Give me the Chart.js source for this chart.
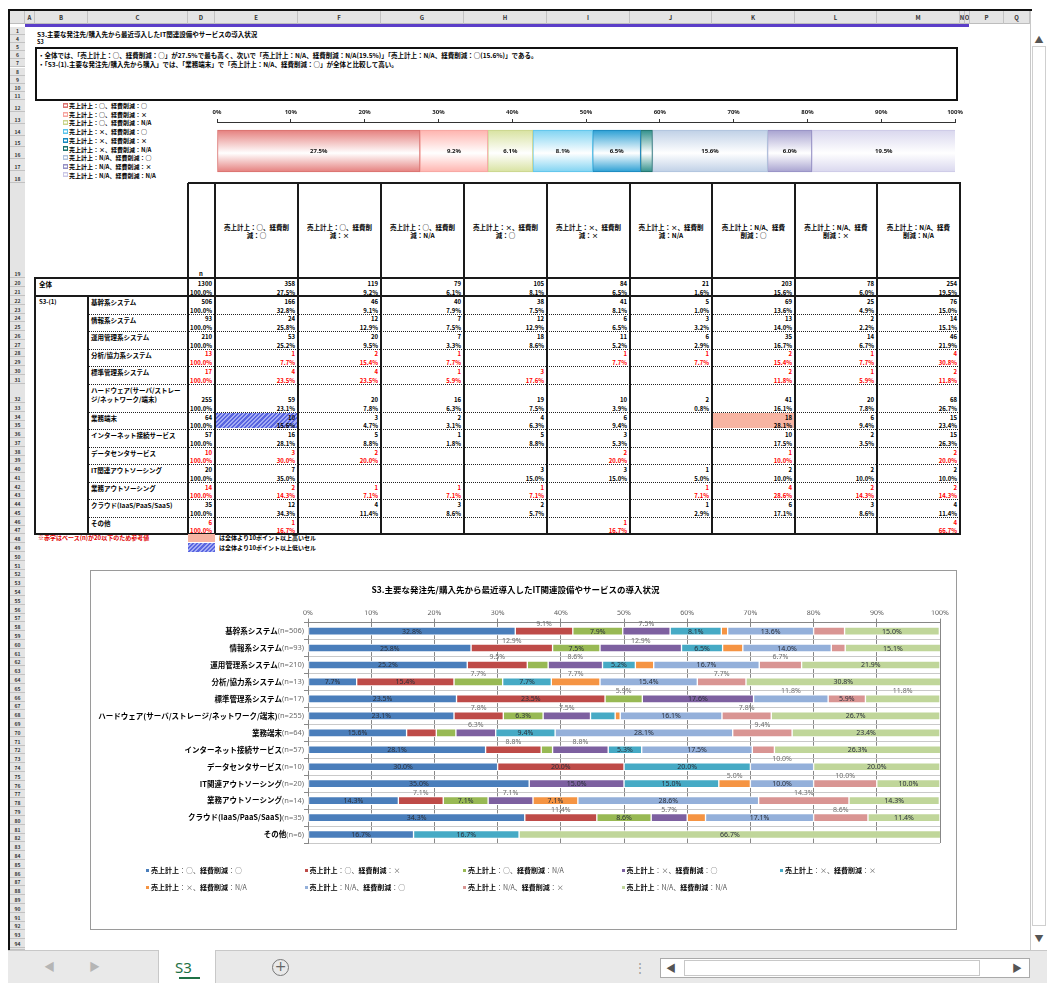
<!DOCTYPE html>
<html lang="ja"><head><meta charset="utf-8">
<script src="https://cdn.jsdelivr.net/npm/chart.js@4.4.1/dist/chart.umd.min.js"></script>
<style>
*{box-sizing:border-box}
html,body{margin:0;padding:0;background:#fff}
body{width:1047px;height:983px;position:relative;overflow:hidden;font-family:"Noto Sans CJK JP","Noto Sans",sans-serif;color:#000}
.a{position:absolute}
.rh{position:absolute;left:10px;width:15px;background:#e4e4e4;border-bottom:1px solid #c2c2c2;font-size:5px;font-weight:bold;color:#333;display:flex;align-items:flex-end;justify-content:center;line-height:6px;overflow:hidden}
.ch{position:absolute;top:11px;height:13px;border-right:1px solid #c2c2c2;font-size:6px;font-weight:bold;color:#333;display:flex;align-items:center;justify-content:center;overflow:hidden}
.t{position:absolute;font-size:6.5px;font-weight:bold;white-space:nowrap;line-height:1}
.cell{position:absolute;font-size:6px;font-weight:bold;display:flex;align-items:flex-end;justify-content:flex-end;padding-right:3px;line-height:7px;white-space:nowrap;overflow:hidden}
.ln{position:absolute;background:#1a1a1a}
.dot{position:absolute;height:0;border-top:1px dotted #222}
.lb{font-weight:bold;color:#000}
.ll{font-weight:normal;color:#555}
.hdr{position:absolute;font-size:6.5px;font-weight:bold;text-align:center;line-height:8px;display:flex;align-items:center;justify-content:center}
.hdr span{display:block;width:68px}
.leg{position:absolute;font-size:7px;white-space:nowrap;line-height:9px}
.leg i{display:inline-block;width:3px;height:3px;margin-right:2px;vertical-align:middle;position:relative;top:-1px}
.mleg{position:absolute;left:63px;font-size:6px;font-weight:bold;white-space:nowrap;line-height:7px}
.mleg i{display:inline-block;width:5px;height:5px;margin-right:1px;vertical-align:middle;position:relative;top:-1px;border:1px solid}
</style></head><body>

<!-- window frame -->
<div class="a" style="left:8px;top:9px;width:1024px;height:2px;background:#111"></div>
<div class="a" style="left:8px;top:9px;width:2px;height:942px;background:#111"></div>
<div id="colhdr" class="a" style="left:10px;top:11px;width:1020px;height:13px;background:#e4e4e4;border-bottom:1px solid #bdbdbd"></div>
<div id="rows"></div>
<div class="a" style="left:25px;top:24px;width:944px;height:3px;background:#5b3ec8"></div>

<!-- vertical scrollbar -->
<div class="a" style="left:1030px;top:11px;width:17px;height:939px;background:#fff;border-left:1px solid #c8c8c8"></div>
<div class="a" style="left:1032px;top:30px;width:14px;height:20px;font-size:9px;color:#555;text-align:center;line-height:20px">▲</div>
<div class="a" style="left:1032px;top:46px;width:14px;height:880px;border:1px solid #cfcfcf;background:#fff"></div>
<div class="a" style="left:1032px;top:930px;width:14px;height:18px;font-size:9px;color:#555;text-align:center;line-height:18px">▼</div>

<!-- sheet title & summary -->
<div class="t" style="left:37px;top:31px;">S3.主要な発注先/購入先から最近導入したIT関連設備やサービスの導入状況</div>
<div class="t" style="left:37px;top:40px;font-size:5.5px">S3</div>
<div class="a" style="left:35px;top:47px;width:923px;height:54px;border:2px solid #111"></div>
<div class="t" style="left:38px;top:52px;">・全体では、「売上計上：○、経費削減：○」が27.5%で最も高く、次いで「売上計上：N/A、経費削減：N/A(19.5%)」「売上計上：N/A、経費削減：○(15.6%)」である。</div>
<div class="t" style="left:38px;top:61px;">・「S3-(1).主要な発注先/購入先から購入」では、「業務端末」で「売上計上：N/A、経費削減：○」が全体と比較して高い。</div>

<div id="mleg"></div>
<canvas id="topChart" class="a" width="770" height="82" style="left:200px;top:100px;width:770px;height:82px"></canvas>

<div id="table"></div>

<!-- notes -->
<div class="t" style="left:38px;top:535px;color:#e00000;font-size:6px">※赤字はベース(n)が20以下のため参考値</div>
<div class="a" style="left:188px;top:534px;width:27px;height:8px;background:#f7b4a2"></div>
<div class="t" style="left:219px;top:535px;font-size:6px">は全体より10ポイント以上高いセル</div>
<div class="a" style="left:188px;top:543px;width:27px;height:9px;background:repeating-linear-gradient(135deg,#5a66e0 0 1.5px,#a4acf4 1.5px 3px)"></div>
<div class="t" style="left:219px;top:545px;font-size:6px">は全体より10ポイント以上低いセル</div>

<!-- main chart -->
<div class="a" style="left:90px;top:570px;width:867px;height:360px;border:1px solid #9a9a9a;background:#fff"></div>
<canvas id="mainChart" class="a" width="865" height="358" style="left:91px;top:571px;width:865px;height:358px"></canvas>
<div id="legend"></div>

<!-- bottom tab bar -->
<div class="a" style="left:8px;top:950px;width:1039px;height:33px;background:#e9e9e9;border-top:1px solid #c8c8c8"></div>
<div class="a" style="left:44px;top:958px;font-size:11px;color:#b5b5b5">◀</div>
<div class="a" style="left:89px;top:958px;font-size:11px;color:#b5b5b5">▶</div>
<div class="a" style="left:158px;top:950px;width:58px;height:33px;background:#fff;border-left:1px solid #c8c8c8;border-right:1px solid #c8c8c8"></div>
<div class="a" style="left:175px;top:957px;font-size:15px;color:#1e7145;font-family:'Noto Sans',sans-serif">S3</div>
<div class="a" style="left:179px;top:977px;width:21px;height:2px;background:#1e7145"></div>
<div class="a" style="left:272px;top:959px;width:17px;height:17px;border:1.5px solid #777;border-radius:50%;font-size:14px;line-height:13px;text-align:center;color:#666;font-family:'DejaVu Sans',sans-serif">+</div>
<div class="a" style="left:634px;top:958px;font-size:12px;color:#999">⋮</div>
<div class="a" style="left:660px;top:958px;width:370px;height:20px;border:1px solid #aaa;background:#fff"></div>
<div class="a" style="left:666px;top:960px;font-size:10px;color:#555">◀</div>
<div class="a" style="left:1012px;top:960px;font-size:10px;color:#555">▶</div>
<div class="a" style="left:684px;top:960px;width:296px;height:16px;border:1px solid #c8c8c8;background:#fff"></div>

<script>
// ---------------- data ----------------
const seriesLabels = [
  '売上計上：○、経費削減：○', '売上計上：○、経費削減：×', '売上計上：○、経費削減：N/A',
  '売上計上：×、経費削減：○', '売上計上：×、経費削減：×', '売上計上：×、経費削減：N/A',
  '売上計上：N/A、経費削減：○', '売上計上：N/A、経費削減：×', '売上計上：N/A、経費削減：N/A'
];
const categoryNames = [
  '基幹系システム', '情報系システム', '運用管理系システム', '分析/協力系システム', '標準管理系システム',
  'ハードウェア(サーバ/ストレージ/ネットワーク/端末)', '業務端末', 'インターネット接続サービス',
  'データセンタサービス', 'IT関連アウトソーシング', '業務アウトソーシング', 'クラウド(IaaS/PaaS/SaaS)', 'その他'
];
const categoryN = [506, 93, 210, 13, 17, 255, 64, 57, 10, 20, 14, 35, 6];

const salesYesCostYes = [32.8, 25.8, 25.2, 7.7, 23.5, 23.1, 15.6, 28.1, 30.0, 35.0, 14.3, 34.3, 16.7];
const salesYesCostNo  = [9.1, 12.9, 9.5, 15.4, 23.5, 7.8, 4.7, 8.8, 20.0, 0, 7.1, 11.4, 0];
const salesYesCostNA  = [7.9, 7.5, 3.3, 7.7, 5.9, 6.3, 3.1, 1.8, 0, 0, 7.1, 8.6, 0];
const salesNoCostYes  = [7.5, 12.9, 8.6, 0, 17.6, 7.5, 6.3, 8.8, 0, 15.0, 7.1, 5.7, 0];
const salesNoCostNo   = [8.1, 6.5, 5.2, 7.7, 0, 3.9, 9.4, 5.3, 20.0, 15.0, 0, 0, 16.7];
const salesNoCostNA   = [1.0, 3.2, 2.9, 7.7, 0, 0.8, 0, 0, 0, 5.0, 7.1, 2.9, 0];
const salesNACostYes  = [13.6, 14.0, 16.7, 15.4, 11.8, 16.1, 28.1, 17.5, 10.0, 10.0, 28.6, 17.1, 0];
const salesNACostNo   = [4.9, 2.2, 6.7, 7.7, 5.9, 7.8, 9.4, 3.5, 0, 10.0, 14.3, 8.6, 0];
const salesNACostNA   = [15.0, 15.1, 21.9, 30.8, 11.8, 26.7, 23.4, 26.3, 20.0, 10.0, 14.3, 11.4, 66.7];
const seriesValues = [salesYesCostYes, salesYesCostNo, salesYesCostNA, salesNoCostYes, salesNoCostNo,
  salesNoCostNA, salesNACostYes, salesNACostNo, salesNACostNA];

const totalN = 1300;
const totalCounts = [358, 119, 79, 105, 84, 21, 203, 78, 254];
const totalPercents = [27.5, 9.2, 6.1, 8.1, 6.5, 1.6, 15.6, 6.0, 19.5];
const xTickLabels = ['0%', '10%', '20%', '30%', '40%', '50%', '60%', '70%', '80%', '90%', '100%'];

const chartTitle = 'S3.主要な発注先/購入先から最近導入したIT関連設備やサービスの導入状況';

// ---------------- styles ----------------
const JP = '"Noto Sans CJK JP", "Noto Sans", sans-serif';
const mainColors = ['#4A7EBB', '#BE4B48', '#98B954', '#7D60A0', '#46AAC5', '#F59443', '#94B0DA', '#D99593', '#C0D69A'];
const topFill = ['#E57F7D', '#FFB3AE', '#D8E2A0', '#7FD3F2', '#2A9FD4', '#2F8F8A', '#BFD0E6', '#A7A2D0', '#D9D7EE'];
const topBorder = ['#D9726F', '#F5A5A0', '#C9D48C', '#5BC3EA', '#1A86BC', '#1F6F6B', '#AFC2DC', '#9590C4', '#CBC8E6'];
// labels drawn above the bar instead of inside: [category, series]
const raisedLabels = [[0,1],[0,3],[1,1],[1,3],[2,1],[2,3],[2,7],[3,2],[3,5],[3,7],[4,2],[4,6],[4,8],
  [5,1],[5,3],[5,7],[6,3],[6,7],[7,1],[7,3],[8,6],[9,5],[9,7],[10,1],[10,3],[10,7],[11,1],[11,3],[11,7]];
const isRaised = (c, s) => raisedLabels.some(p => p[0] === c && p[1] === s);

function runsHTML(text) {
  return text.replace(/([\u3040-\u30ff\u4e00-\u9fff]+)|([^\u3040-\u30ff\u4e00-\u9fff]+)/g,
    (m, j, o) => j ? '<span class="lb">' + j + '</span>' : '<span class="ll">' + o + '</span>');
}

// ---------------- spreadsheet chrome ----------------
const colDefs = [['',10,25],['A',25,35],['B',35,88],['C',88,188],['D',188,215],['E',215,298],['F',298,381],['G',381,464],
  ['H',464,547],['I',547,630],['J',630,712],['K',712,795],['L',795,877],['M',877,960],['N',960,965],['O',965,970],
  ['P',970,1004],['Q',1004,1030]];
colDefs.forEach(c => {
  const d = document.createElement('div'); d.className = 'ch';
  d.style.left = c[1] + 'px'; d.style.width = (c[2] - c[1]) + 'px'; d.textContent = c[0];
  document.body.appendChild(d);
});
const rowsEl = document.getElementById('rows');
function addRow(num, top, h) {
  const d = document.createElement('div'); d.className = 'rh';
  d.style.top = top + 'px'; d.style.height = h + 'px'; d.textContent = num; rowsEl.appendChild(d);
}
let y = 27;
[1,4,5,6,7,8,9,10,11].forEach(n => { addRow(n, y, 8.1); y += 8.1; });
y = 100; for (let n = 12; n <= 18; n++) { addRow(n, y, 11.86); y += 11.86; }
addRow(19, 183, 95);
addRow(20, 278, 9); addRow(21, 287, 9);
y = 296; for (let n = 22; n <= 31; n++) { addRow(n, y, 8.75); y += 8.75; }
addRow(32, y, 19.6); y += 19.6; addRow(33, y, 8.8); y += 8.8;
for (let n = 34; n <= 47; n++) { addRow(n, y, 8.75); y += 8.75; }
for (let n = 48; y < 948; n++) { addRow(n, y, Math.min(8.8, 950 - y)); y += 8.8; }

// ---------------- mini legend (top-left) ----------------
const mleg = document.getElementById('mleg');
seriesLabels.forEach((s, i) => {
  const d = document.createElement('div'); d.className = 'mleg';
  d.style.top = (102 + i * 8.7) + 'px';
  d.innerHTML = '<i style="background:linear-gradient(' + topFill[i] + ',#fff,' + topFill[i] + ');border-color:' + topBorder[i] + '"></i>' + s;
  mleg.appendChild(d);
});

// ---------------- table ----------------
const T = document.getElementById('table');
function el(cls, st, html) {
  const d = document.createElement('div'); d.className = cls; Object.assign(d.style, st);
  if (html !== undefined) d.innerHTML = html; T.appendChild(d); return d;
}
const colX = [215, 298, 381, 464, 547, 630, 712, 795, 877, 960];
const px = v => v + 'px';
seriesLabels.forEach((s, j) => {
  el('hdr', {left: px(colX[j]), top: '183px', width: px(colX[j+1]-colX[j]), height: '95px'}, '<span>' + s + '</span>');
});
el('t', {left: '199px', top: '271px', fontSize: '6px'}, 'n');
const blocks = []; let by = 296;
categoryN.forEach((n, i) => {
  const ch = i === 5 ? 19.6 : 8.75;
  blocks.push({top: by, ch, ph: 8.75}); by += ch + 8.75;
});
const fmtPct = v => v.toFixed(1) + '%';
el('t', {left: '39px', top: '281px', fontSize: '6.5px'}, '全体');
el('cell', {left: '188px', top: '278px', width: '27px', height: '9px'}, String(totalN));
el('cell', {left: '188px', top: '287px', width: '27px', height: '9px'}, '100.0%');
totalCounts.forEach((c, j) => {
  el('cell', {left: px(colX[j]), top: '278px', width: px(colX[j+1]-colX[j]), height: '9px'}, String(c));
  el('cell', {left: px(colX[j]), top: '287px', width: px(colX[j+1]-colX[j]), height: '9px'}, fmtPct(totalPercents[j]));
});
el('t', {left: '39px', top: '299px', fontSize: '6px'}, 'S3-(1)');
categoryNames.forEach((name, i) => {
  const b = blocks[i], n = categoryN[i], red = n < 20 ? '#ff0000' : '#000';
  el('t', {left: '91px', top: px(b.top + 2), fontSize: '6.5px', whiteSpace: 'normal', width: '95px', lineHeight: '9px'}, name);
  el('cell', {left: '188px', top: px(b.top), width: '27px', height: px(b.ch), color: red}, String(n));
  el('cell', {left: '188px', top: px(b.top + b.ch), width: '27px', height: px(b.ph), color: red}, '100.0%');
  seriesValues.forEach((arr, j) => {
    const v = arr[i]; const w = colX[j+1] - colX[j];
    let bg = '';
    if (n >= 20 && v - totalPercents[j] >= 10) bg = '#f7b4a2';
    if (n >= 20 && totalPercents[j] - v >= 10) bg = 'repeating-linear-gradient(135deg,#5a66e0 0 1.5px,#a4acf4 1.5px 3px)';
    if (bg) el('a', {left: px(colX[j] + 1), top: px(b.top + 1), width: px(w - 2), height: px(b.ch + b.ph - 2), background: bg});
    if (v > 0) {
      el('cell', {left: px(colX[j]), top: px(b.top), width: px(w), height: px(b.ch), color: red}, String(Math.round(n * v / 100)));
      el('cell', {left: px(colX[j]), top: px(b.top + b.ch), width: px(w), height: px(b.ph), color: red}, fmtPct(v));
    }
  });
  if (i < categoryNames.length - 1) el('dot', {left: '88px', top: px(b.top + b.ch + b.ph), width: '872px'});
});
const tBottom = by;
[188, 215].concat(colX.slice(1)).forEach(x => el('ln', {left: px(x - 1), top: '183px', width: '2px', height: px(tBottom - 183 + 1)}));
el('ln', {left: '34px', top: '278px', width: '2px', height: px(tBottom - 278 + 1)});
el('ln', {left: '87px', top: '296px', width: '2px', height: px(tBottom - 296 + 1)});
el('ln', {left: '188px', top: '182px', width: '773px', height: '2px'});
el('ln', {left: '34px', top: '277px', width: '927px', height: '2px'});
el('ln', {left: '34px', top: '295px', width: '927px', height: '2px'});
el('ln', {left: '34px', top: px(tBottom - 1), width: '927px', height: '2px'});

// ---------------- legend for main chart ----------------
const legEl = document.getElementById('legend');
seriesLabels.forEach((s, i) => {
  const d = document.createElement('div'); d.className = 'leg';
  d.style.left = (146 + (i % 5) * 158.5) + 'px';
  d.style.top = (i < 5 ? 866 : 883) + 'px';
  d.innerHTML = '<i style="background:' + mainColors[i] + '"></i>' + runsHTML(s);
  legEl.appendChild(d);
});

// ---------------- charts ----------------
Chart.defaults.font.family = JP;

const valueLabelPlugin = {
  id: 'valueLabels',
  afterDatasetsDraw(chart) {
    const ctx = chart.ctx; ctx.save();
    ctx.font = '7px "Noto Sans", sans-serif'; ctx.textAlign = 'center'; ctx.textBaseline = 'middle';
    chart.data.datasets.forEach((ds, di) => {
      chart.getDatasetMeta(di).data.forEach((bar, ci) => {
        const v = ds.data[ci]; if (v < 5) return;
        const cx = (bar.x + bar.base) / 2;
        const up = isRaised(ci, di);
        ctx.fillStyle = up ? '#6e6e6e' : '#2a2f3a';
        ctx.fillText(v.toFixed(1) + '%', cx, up ? bar.y - 7.5 : bar.y + 0.5);
      });
    });
    ctx.restore();
  }
};
const catLabelPlugin = {
  id: 'catLabels',
  afterDraw(chart) {
    const ctx = chart.ctx, ys = chart.scales.y, right = chart.chartArea.left - 4;
    ctx.save(); ctx.textBaseline = 'middle'; ctx.textAlign = 'right';
    categoryNames.forEach((name, i) => {
      const yy = ys.getPixelForValue(i);
      const nTxt = '(n=' + categoryN[i] + ')';
      ctx.font = '7.5px "Noto Sans", sans-serif'; ctx.fillStyle = '#6b6b6b';
      ctx.fillText(nTxt, right, yy);
      const w = ctx.measureText(nTxt).width;
      ctx.font = 'bold 7.5px ' + JP; ctx.fillStyle = '#000';
      ctx.fillText(name, right - w, yy);
    });
    ctx.restore();
  }
};

new Chart(document.getElementById('mainChart'), {
  type: 'bar',
  data: {
    labels: categoryNames,
    datasets: seriesValues.map((arr, i) => ({
      label: seriesLabels[i], data: arr, backgroundColor: mainColors[i],
      borderColor: '#ffffff', borderWidth: 1, borderSkipped: false, barThickness: 8
    }))
  },
  options: {
    indexAxis: 'y', responsive: false, animation: false, devicePixelRatio: 1,
    layout: {padding: {left: 0, right: 16, top: 0, bottom: 86}},
    plugins: {
      legend: {display: false}, tooltip: {enabled: false},
      title: {display: true, text: chartTitle, color: '#000', font: {size: 8.5, weight: 'bold', family: JP, lineHeight: 1.2},
        padding: {top: 14, bottom: 15.4}}
    },
    scales: {
      x: {
        position: 'top', stacked: true, min: 0, max: 100,
        ticks: {stepSize: 10, callback: (v, i) => xTickLabels[i], font: {size: 7, family: '"Noto Sans", sans-serif'}, color: '#595959', padding: 1, maxRotation: 0},
        grid: {color: '#878787', tickLength: 4},
        border: {color: '#878787'},
        afterFit: s => { s.height = 12; }
      },
      y: {
        stacked: true,
        ticks: {display: false},
        grid: {drawOnChartArea: true, tickLength: 4, color: '#c9c9c9', tickColor: '#878787', offset: true},
        border: {color: '#878787'},
        afterFit: s => { s.width = 217; }
      }
    }
  },
  plugins: [valueLabelPlugin, catLabelPlugin]
});

function topGradient(chart, color) {
  const ys = chart.scales && chart.scales.y;
  if (!ys || !chart.chartArea) return color;
  const yc = ys.getPixelForValue(0);
  const g = chart.ctx.createLinearGradient(0, yc - 21, 0, yc + 21);
  g.addColorStop(0, color); g.addColorStop(0.55, '#ffffff'); g.addColorStop(1, color);
  return g;
}
const topLabelPlugin = {
  id: 'topLabels',
  afterDatasetsDraw(chart) {
    const ctx = chart.ctx; ctx.save();
    ctx.font = 'bold 6px "Noto Sans", sans-serif'; ctx.textAlign = 'center'; ctx.textBaseline = 'middle'; ctx.fillStyle = '#111';
    chart.data.datasets.forEach((ds, di) => {
      const bar = chart.getDatasetMeta(di).data[0]; const v = ds.data[0];
      if (v < 3) return;
      ctx.fillText(v.toFixed(1) + '%', (bar.x + bar.base) / 2, bar.y);
    });
    ctx.restore();
  }
};
new Chart(document.getElementById('topChart'), {
  type: 'bar',
  data: {
    labels: ['全体'],
    datasets: totalPercents.map((v, i) => ({
      label: seriesLabels[i], data: [v],
      backgroundColor: c => topGradient(c.chart, topFill[i]),
      borderColor: topBorder[i], borderWidth: 1, borderSkipped: false, barThickness: 42
    }))
  },
  options: {
    indexAxis: 'y', responsive: false, animation: false, devicePixelRatio: 1,
    layout: {padding: {left: 17, right: 15, top: 0, bottom: 2}},
    plugins: {legend: {display: false}, tooltip: {enabled: false}},
    scales: {
      x: {
        position: 'top', stacked: true, min: 0, max: 100,
        ticks: {stepSize: 10, callback: (v, i) => xTickLabels[i], font: {size: 6, weight: 'bold', family: '"Noto Sans", sans-serif'}, color: '#222', padding: 3, maxRotation: 0},
        grid: {drawOnChartArea: false, tickLength: 3, color: '#333'},
        border: {color: '#333'},
        afterFit: s => { s.height = 22; }
      },
      y: {stacked: true, display: false}
    }
  },
  plugins: [topLabelPlugin]
});
</script>
</body></html>
